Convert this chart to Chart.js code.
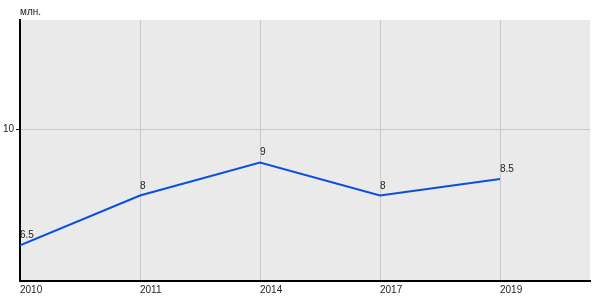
<!DOCTYPE html>
<html>
<head>
<meta charset="utf-8">
<script src="https://cdn.jsdelivr.net/npm/chart.js@4"></script>
<style>
  html, body { margin: 0; padding: 0; background: #fff; }
  #wrap { width: 600px; height: 300px; }
</style>
</head>
<body>
<div id="wrap"><canvas id="chart" width="600" height="300"></canvas></div>
<script>
// data
const years = ['2010', '2011', '2014', '2017', '2019'];
const values = [6.5, 8, 9, 8, 8.5];
const pointLabels = ['6.5', '8', '9', '8', '8.5'];
const yTicks = [10];
const unitLabel = 'млн.';

const FONT = "'Liberation Sans', Arial, sans-serif";

// grey plot background + unit label + value labels
const decorPlugin = {
    id: 'decor',
    beforeDraw(chart) {
        const { ctx, chartArea: a } = chart;
        ctx.save();
        ctx.fillStyle = '#eaeaea';
        ctx.fillRect(a.left, a.top, a.right - a.left, a.bottom - a.top);
        ctx.restore();
    },
    afterDatasetsDraw(chart) {
        const { ctx, chartArea: a } = chart;
        ctx.save();
        ctx.font = '10px ' + FONT;
        ctx.fillStyle = '#222';
        ctx.textAlign = 'left';
        ctx.textBaseline = 'alphabetic';
        ctx.fillText(unitLabel, a.left, a.top - 5);
        const meta = chart.getDatasetMeta(0);
        meta.data.forEach((pt, i) => {
            ctx.fillText(pointLabels[i], pt.x, pt.y - 7);
        });
        ctx.restore();
    }
};

new Chart(document.getElementById('chart'), {
    type: 'line',
    data: {
        datasets: [{
            data: values.map((v, i) => ({ x: i, y: v })),
            borderColor: '#0a4fe0',
            borderWidth: 2,
            pointRadius: 0,
            tension: 0,
            fill: false
        }]
    },
    options: {
        responsive: false,
        animation: false,
        layout: { padding: { top: 20, right: 10, left: 0, bottom: 0 } },
        plugins: { legend: { display: false }, tooltip: { enabled: false } },
        scales: {
            x: {
                type: 'linear',
                min: 0,
                max: 4.75,
                afterBuildTicks: s => { s.ticks = years.map((_, i) => ({ value: i })); },
                afterFit: s => { s.height = 19; },
                ticks: {
                    callback: (v) => years[v],
                    align: 'start',
                    maxRotation: 0,
                    autoSkip: false,
                    padding: 3,
                    color: '#222',
                    font: { family: FONT, size: 10 }
                },
                grid: { color: '#c8c8c8', lineWidth: 1, drawTicks: false },
                border: { color: '#000', width: 2 }
            },
            y: {
                min: 5.42,
                max: 13.3,
                afterBuildTicks: s => { s.ticks = yTicks.map(v => ({ value: v })); },
                afterFit: s => { s.width = 20; },
                ticks: {
                    padding: 2,
                    color: '#222',
                    font: { family: FONT, size: 10 }
                },
                grid: { color: '#c8c8c8', lineWidth: 1, tickLength: 4, tickColor: '#000' },
                border: { color: '#000', width: 2 }
            }
        }
    },
    plugins: [decorPlugin]
});
</script>
</body>
</html>
